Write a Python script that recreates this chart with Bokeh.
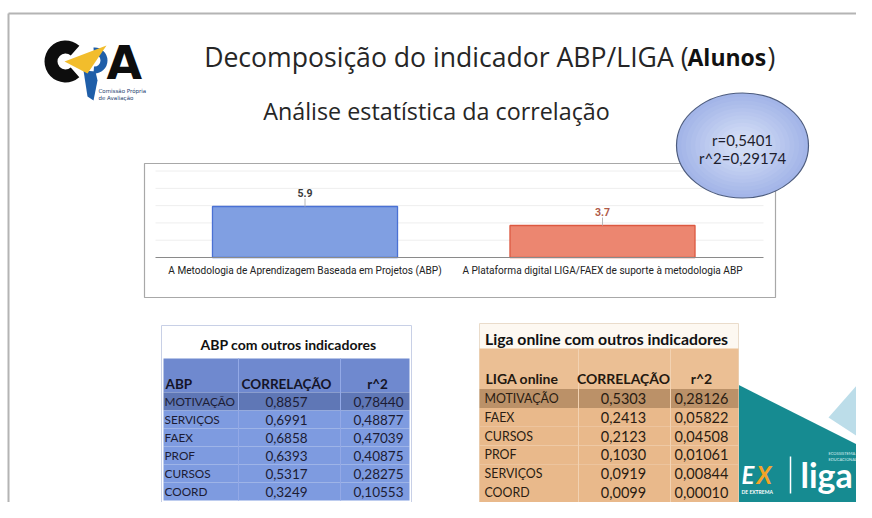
from bokeh.plotting import figure
from bokeh.models import Range1d
from bokeh.core.properties import value
from bokeh.embed import file_html
from bokeh.resources import INLINE

# ---------------- data ----------------
title_normal = "Decomposição do indicador ABP/LIGA ("
title_bold = "Alunos"
subtitle = "Análise estatística da correlação"

bar_categories = ["A Metodologia de Aprendizagem Baseada em Projetos (ABP)",
                  "A Plataforma digital LIGA/FAEX de suporte à metodologia ABP"]
bar_values = [5.9, 3.7]

r_value = 0.5401
r2_value = 0.29174

abp_title = "ABP com outros indicadores"
abp_header = ["ABP", "CORRELAÇÃO", "r^2"]
abp_indicators = ["MOTIVAÇÃO", "SERVIÇOS", "FAEX", "PROF", "CURSOS", "COORD"]
abp_corr = [0.8857, 0.6991, 0.6858, 0.6393, 0.5317, 0.3249]
abp_r2 = [0.78440, 0.48877, 0.47039, 0.40875, 0.28275, 0.10553]

liga_title = "Liga online com outros indicadores"
liga_header = ["LIGA online", "CORRELAÇÃO", "r^2"]
liga_indicators = ["MOTIVAÇÃO", "FAEX", "CURSOS", "PROF", "SERVIÇOS", "COORD"]
liga_corr = [0.5303, 0.2413, 0.2123, 0.1030, 0.0919, 0.0099]
liga_r2 = [0.28126, 0.05822, 0.04508, 0.01061, 0.00844, 0.00010]


def br(v, d):
    return f"{v:.{d}f}".replace(".", ",")


# ---------------- canvas ----------------
W, H = 856, 502
p = figure(width=W, height=H, x_range=Range1d(0, W), y_range=Range1d(H, 0),
           output_backend="svg", toolbar_location=None,
           x_axis_location=None, y_axis_location=None, min_border=0)
p.grid.visible = False
p.outline_line_color = None
p.background_fill_color = "white"
p.border_fill_color = "white"

LATO = value("Lato")
OPEN = value("Open Sans")

# slide border
p.line([8, 8], [13, 520], line_color="#b4b4b4", line_width=2)
p.line([8, 880], [13, 13], line_color="#b4b4b4", line_width=2)

# ---------------- logo ----------------
p.annular_wedge(x=[65], y=[61], inner_radius=8, outer_radius=21, start_angle=0.85,
                end_angle=6.28 - 0.85, fill_color="#0d0d0d", line_color=None)
p.text(x=[106], y=[62], text=["A"], text_font=value("DejaVu Sans"), text_font_style="bold",
       text_font_size="46px", text_color="#0d0d0d", text_baseline="middle")
p.annular_wedge(x=[94], y=[60], inner_radius=6, outer_radius=13, start_angle=-1.65, end_angle=1.65,
                fill_color="#1f5ea8", line_color=None)
p.patch([83, 95, 97, 93, 87], [70, 71, 80, 100, 96], fill_color="#1f5ea8", line_color=None)
p.patch([64, 106, 87], [61, 45, 73], fill_color="#f2bd2c", line_color=None)
p.text(x=[98, 98], y=[90, 97], text=["Comissão Própria", "de Avaliação"],
       text_font=value("DejaVu Sans"), text_font_size="5.5px", text_color="#1f3f70",
       text_baseline="middle")

# ---------------- titles ----------------
p.text(x=[688], y=[56], text=[title_normal], text_font=OPEN, text_font_size="26.6px",
       text_color="#262626", text_align="right", text_baseline="middle")
p.text(x=[687], y=[56], text=[title_bold], text_font=OPEN, text_font_style="bold",
       text_font_size="23px", text_color="#111111", text_align="left", text_baseline="middle")
p.text(x=[767], y=[56], text=[")"], text_font=OPEN, text_font_size="26.6px",
       text_color="#262626", text_align="left", text_baseline="middle")
p.text(x=[436], y=[110], text=[subtitle], text_font=OPEN, text_font_size="23.3px",
       text_color="#262626", text_align="center", text_baseline="middle")

# ---------------- bar chart ----------------
p.quad(left=[144], right=[775], top=[163], bottom=[297], fill_color="white",
       line_color="#a8a8a8", line_width=1.2)

k = 51 / 5.9          # pixels per unit
base_px = 257
p.extra_y_ranges = {"bar": Range1d(start=-(H - base_px) / k, end=base_px / k)}
c0, s = 304.5, 297.5
p.extra_x_ranges = {"cat": Range1d(start=-c0 / s, end=(W - c0) / s)}

grid_vals = [2, 4, 6, 8, 10]
p.segment(x0=[155] * len(grid_vals), x1=[763] * len(grid_vals), y0=grid_vals, y1=grid_vals,
          y_range_name="bar", line_color="#eeeeee", line_width=1)

idx = list(range(len(bar_values)))
p.vbar(x=idx, top=bar_values, bottom=0, width=0.622, x_range_name="cat", y_range_name="bar",
       fill_color=["#809fe2", "#ec8670"], line_color=["#4a71d4", "#dc5840"], line_width=1.3)
p.segment(x0=[155], x1=[763], y0=[0], y1=[0], y_range_name="bar",
          line_color="#8a8a8a", line_width=1)

p.segment(x0=idx, x1=idx, y0=bar_values, y1=[v + 8 / k for v in bar_values],
          x_range_name="cat", y_range_name="bar", line_color="#b8b8b8", line_width=1)
p.text(x=idx, y=[v + 14 / k for v in bar_values], text=[f"{v:.1f}" for v in bar_values],
       x_range_name="cat", y_range_name="bar", text_font=value("Roboto"), text_font_style="bold",
       text_font_size="10.5px", text_color=["#3a3a3a", "#b05a48"], text_align="center",
       text_baseline="middle")
p.text(x=idx, y=[-13 / k] * len(idx), text=bar_categories, x_range_name="cat", y_range_name="bar",
       text_font=value("Roboto"), text_font_size="10.1px", text_color="#222222",
       text_align="center", text_baseline="middle")

# ---------------- r ellipse ----------------
p.ellipse(x=[742], y=[145], width=[132], height=[105], fill_color="#a3b5e8",
          line_color="#4d5c7e", line_width=1.2)
steps = 12
c_out = (0xA3, 0xB5, 0xE8)
c_in = (0xD6, 0xE0, 0xF7)
for i in range(1, steps):
    f = i / steps
    col = "#%02x%02x%02x" % tuple(int(a + (b - a) * f) for a, b in zip(c_out, c_in))
    p.ellipse(x=[742], y=[145], width=[132 * (1 - 0.85 * f)], height=[105 * (1 - 0.85 * f)],
              fill_color=col, line_color=None)
p.text(x=[742, 742], y=[139, 157], text=[f"r={br(r_value, 4)}", f"r^2={br(r2_value, 5)}"],
       text_font=LATO, text_font_size="15px", text_color="#1e1e2e", text_align="center",
       text_baseline="middle")

# ---------------- bottom-right decoration ----------------
p.patch([690, 880, 880, 716, 690], [360, 456, 530, 530, 480], fill_color="#168b91", line_color=None)
p.patch([828, 880, 880], [417, 358, 451], fill_color="#bcdde9", line_color=None)
p.patch([600, 614, 684, 708], [530, 502, 502, 530], fill_color="#1f4c8a", line_color=None)
p.text(x=[741], y=[474], text=["E"], text_font=LATO, text_font_style="bold italic",
       text_font_size="24px", text_color="white", text_baseline="middle")
p.text(x=[756], y=[474], text=["X"], text_font=LATO, text_font_style="bold italic",
       text_font_size="24px", text_color="#f2a428", text_baseline="middle")
p.text(x=[741], y=[491], text=["DE EXTREMA"], text_font=LATO, text_font_style="bold",
       text_font_size="5px", text_color="white", text_baseline="middle")
p.line([790, 790], [456, 493], line_color="white", line_width=1.5)
p.text(x=[800], y=[474], text=["liga"], text_font=LATO, text_font_style="bold",
       text_font_size="34px", text_color="white", text_baseline="middle")
p.text(x=[828, 828], y=[453, 459], text=["ECOSSISTEMA", "EDUCACIONAL"], text_font=LATO,
       text_font_size="4px", text_color="#d8eef0", text_baseline="middle")

# ---------------- ABP table ----------------
n = len(abp_indicators)
row_h = 18
first = 401
p.quad(left=[161], right=[411], top=[325], bottom=[503], fill_color="white",
       line_color="#c8d0e6", line_width=1)
p.quad(left=[163], right=[409], top=[358], bottom=[first - row_h / 2], fill_color="#6f89cf",
       line_color=None)
tops = [first - row_h / 2 + i * row_h for i in range(n)]
p.quad(left=[163] * n, right=[409] * n, top=tops, bottom=[t + row_h for t in tops],
       fill_color=["#5f77b6"] + ["#7e9be0"] * (n - 1), line_color=None)
p.segment(x0=[238, 340], x1=[238, 340], y0=[358, 358], y1=[500, 500],
          line_color="#93a9e6", line_width=1)
p.text(x=[288], y=[344], text=[abp_title], text_font=LATO, text_font_style="bold",
       text_font_size="14px", text_color="#111111", text_align="center", text_baseline="middle")
p.text(x=[165, 286, 377], y=[383] * 3, text=abp_header, text_font=LATO, text_font_style="bold",
       text_font_size="13.5px", text_color="#141428", text_align=["left", "center", "center"],
       text_baseline="middle")
ys = [first + i * row_h for i in range(n)]
p.text(x=[164] * n, y=ys, text=abp_indicators, text_font=LATO, text_font_size="11.8px",
       text_color="#1c1c34", text_baseline="middle")
p.text(x=[286] * n, y=ys, text=[br(v, 4) for v in abp_corr], text_font=LATO,
       text_font_size="13.5px", text_color="#1c1c34", text_align="center", text_baseline="middle")
p.text(x=[378] * n, y=ys, text=[br(v, 5) for v in abp_r2], text_font=LATO,
       text_font_size="13.5px", text_color="#1c1c34", text_align="center", text_baseline="middle")

# ---------------- LIGA table ----------------
m = len(liga_indicators)
row_h2 = 18.8
first2 = 398
p.quad(left=[479], right=[738], top=[323], bottom=[503], fill_color="#fdf8f1",
       line_color="#eadccb", line_width=1)
p.quad(left=[479], right=[738], top=[348], bottom=[first2 - row_h2 / 2], fill_color="#ebbf94",
       line_color=None)
tops2 = [first2 - row_h2 / 2 + i * row_h2 for i in range(m)]
p.quad(left=[479] * m, right=[738] * m, top=tops2, bottom=[t + row_h2 for t in tops2],
       fill_color=["#bb9168"] + ["#e9b98b"] * (m - 1), line_color=None)
p.segment(x0=[578, 670], x1=[578, 670], y0=[348, 348], y1=[502, 502],
          line_color="#f2d2b2", line_width=1)
p.text(x=[606], y=[338], text=[liga_title], text_font=LATO, text_font_style="bold",
       text_font_size="15.8px", text_color="#111111", text_align="center", text_baseline="middle")
p.text(x=[485, 623, 701], y=[378] * 3, text=liga_header, text_font=LATO, text_font_style="bold",
       text_font_size="14px", text_color="#241810", text_align=["left", "center", "center"],
       text_baseline="middle")
ys2 = [first2 + i * row_h2 for i in range(m)]
p.text(x=[484] * m, y=ys2, text=liga_indicators, text_font=LATO, text_font_size="12.4px",
       text_color="#2a1c12", text_baseline="middle")
p.text(x=[623] * m, y=ys2, text=[br(v, 4) for v in liga_corr], text_font=LATO,
       text_font_size="14.5px", text_color="#2a1c12", text_align="center", text_baseline="middle")
p.text(x=[701] * m, y=ys2, text=[br(v, 5) for v in liga_r2], text_font=LATO,
       text_font_size="14.5px", text_color="#2a1c12", text_align="center", text_baseline="middle")

open("out.html", "w").write(file_html(p, INLINE))
